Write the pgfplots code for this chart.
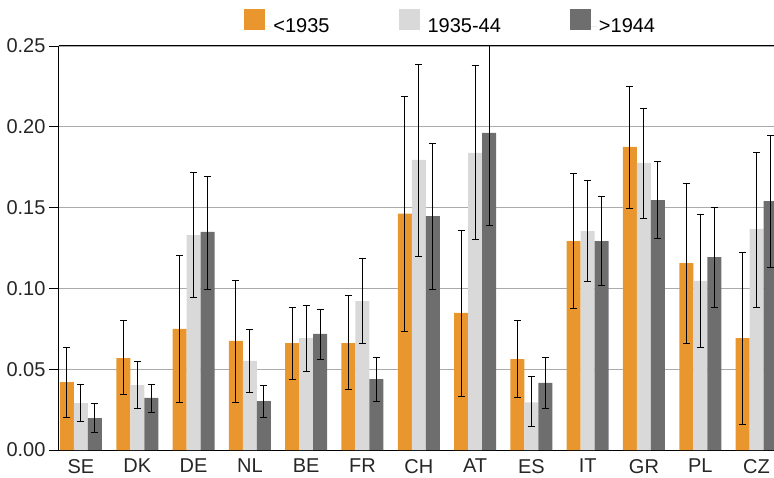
\documentclass[border=0pt]{standalone}
\usepackage{pgfplots}
\pgfplotsset{compat=1.18}
\usepackage{pgfplotstable}
\usepackage{fontspec}
\setmainfont{Liberation Sans}
\definecolor{cA}{HTML}{E9962F}
\definecolor{cB}{HTML}{D9D9D9}
\definecolor{cC}{HTML}{6E6E6E}
\definecolor{gridc}{HTML}{AAAAAA}
\pgfplotstableread{
x y hi lo
0 0.0420 0.0636 0.0202
1 0.0569 0.0800 0.0342
2 0.0749 0.1205 0.0293
3 0.0675 0.1050 0.0295
4 0.0662 0.0881 0.0435
5 0.0662 0.0955 0.0373
6 0.1462 0.2187 0.0734
7 0.0848 0.1357 0.0332
8 0.0563 0.0802 0.0326
9 0.1293 0.1710 0.0875
10 0.1875 0.2252 0.1494
11 0.1157 0.1648 0.0662
12 0.0693 0.1225 0.0159
}\tA
\pgfplotstableread{
x y hi lo
0 0.0290 0.0406 0.0175
1 0.0402 0.0547 0.0254
2 0.1330 0.1720 0.0943
3 0.0551 0.0743 0.0357
4 0.0693 0.0895 0.0483
5 0.0922 0.1186 0.0656
6 0.1795 0.2385 0.1198
7 0.1838 0.2380 0.1302
8 0.0295 0.0454 0.0144
9 0.1355 0.1665 0.1042
10 0.1776 0.2116 0.1430
11 0.1046 0.1456 0.0637
12 0.1368 0.1844 0.0883
}\tB
\pgfplotstableread{
x y hi lo
0 0.0198 0.0285 0.0107
1 0.0322 0.0408 0.0231
2 0.1350 0.1690 0.0994
3 0.0303 0.0402 0.0200
4 0.0718 0.0870 0.0557
5 0.0439 0.0571 0.0303
6 0.1448 0.1896 0.0996
7 0.1962 0.2500 0.1390
8 0.0415 0.0571 0.0254
9 0.1293 0.1570 0.1017
10 0.1547 0.1784 0.1310
11 0.1194 0.1500 0.0883
12 0.1540 0.1947 0.1132
}\tC
\begin{document}
\begin{tikzpicture}
\begin{axis}[
  scale only axis, width=715pt, height=404pt,
  xmin=-0.39, xmax=12.31, ymin=0, ymax=0.25,
  axis lines=left, axis line style={-, line width=1pt, black},
  ybar=0pt, bar width=14pt,
  xtick={0,1,2,3,4,5,6,7,8,9,10,11,12},
  xticklabels={SE,DK,DE,NL,BE,FR,CH,AT,ES,IT,GR,PL,CZ},
  x tick style={draw=none},
  ytick={0,0.05,0.10,0.15,0.20,0.25},
  y tick style={black, line width=0.8pt}, tick align=outside, major tick length=10pt,
  yticklabel style={/pgf/number format/.cd, fixed, fixed zerofill, precision=2, assume math mode=true},
  xticklabel style={inner sep=0pt, anchor=north, yshift=1pt},
  ymajorgrids, grid style={color=gridc, line width=0.9pt},
  tick label style={font=\fontsize{20}{24}\selectfont, text=black!85},
  legend columns=3,
  legend style={draw=none, fill=none, at={(0.259,1.0916)}, anchor=north west,
    font=\fontsize{20}{24}\selectfont, inner sep=0pt,
    /tikz/every even column/.append style={column sep=67pt}},
  legend image code/.code={\fill[#1] (0pt,-3.5pt) rectangle (21pt,17.5pt); \path (0pt,0pt) -- (27pt,0pt);},
  error bars/y dir=both, error bars/y explicit,
  error bars/error bar style={black, line width=1pt},
  error bars/error mark options={black, line width=1pt, mark size=3.5pt, rotate=90},
]
\addplot[fill=cA, draw=none] table[x=x, y=y, y error plus expr=\thisrow{hi}-\thisrow{y}, y error minus expr=\thisrow{y}-\thisrow{lo}] {\tA};
\addplot[fill=cB, draw=none] table[x=x, y=y, y error plus expr=\thisrow{hi}-\thisrow{y}, y error minus expr=\thisrow{y}-\thisrow{lo}] {\tB};
\addplot[fill=cC, draw=none] table[x=x, y=y, y error plus expr=\thisrow{hi}-\thisrow{y}, y error minus expr=\thisrow{y}-\thisrow{lo}] {\tC};
\legend{{<1935},{1935-44},{>1944}}
\draw[black, line width=1pt] (rel axis cs:0,1) -- (rel axis cs:1,1);
\end{axis}
\pgfresetboundingbox
\path[use as bounding box] ([xshift=-59pt,yshift=-27pt]current axis.south west) rectangle ([yshift=46pt]current axis.north east);
\end{tikzpicture}
\end{document}
